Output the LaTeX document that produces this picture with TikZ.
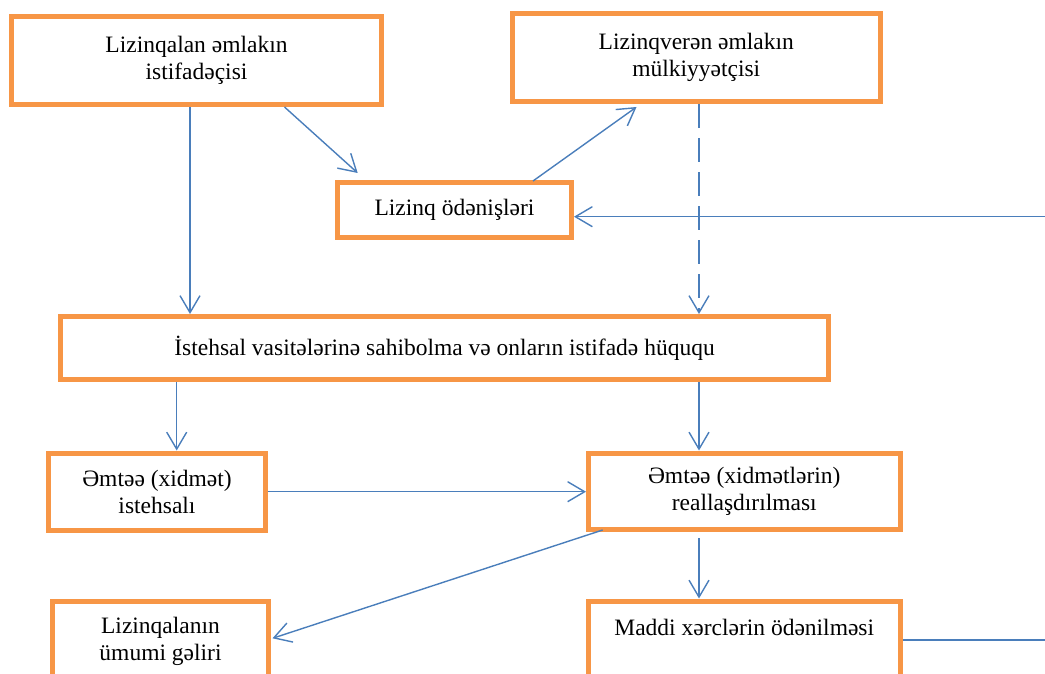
\documentclass[tikz,border=0pt]{standalone}
\usepackage{fontspec}
\setmainfont{Liberation Serif}
\usetikzlibrary{arrows.meta,calc}

\definecolor{boxorange}{HTML}{F79646}
\definecolor{linkblue}{HTML}{4A7EBB}

\tikzset{
  stagebox/.style={draw=boxorange, line width=5bp, fill=white, rectangle,
    inner sep=0pt, align=center, font=\fontsize{23.5bp}{27bp}\selectfont},
  conn/.style={draw=linkblue, line width=1.4bp,
    -{Straight Barb[length=17bp,width=20bp]}},
  dashconn/.style={conn, dash pattern=on 24bp off 10bp},
}

\begin{document}
\begin{tikzpicture}[x=1bp, y=-1bp]
  \useasboundingbox (0,0) rectangle (1045,674);
  \clip (0,0) rectangle (1045,674);

  % boxes
  \node[stagebox, minimum width=369bp, minimum height=87.5bp] (A) at (196.5,60.75)
    {Lizinqalan əmlakın\\istifadəçisi};
  \node[stagebox, minimum width=368.5bp, minimum height=87.5bp] (B) at (696.25,57.75)
    {Lizinqverən əmlakın\\mülkiyyətçisi};
  \node[stagebox, minimum width=234bp, minimum height=54.5bp] (C) at (454.5,210.25)
    {Lizinq ödənişləri};
  \node[stagebox, minimum width=767bp, minimum height=63bp] (D) at (444.5,348)
    {\raisebox{-2bp}{İstehsal vasitələrinə sahibolma və onların istifadə hüququ}};
  \node[stagebox, minimum width=216bp, minimum height=77bp] (E) at (157,491.5)
    {Əmtəə (xidmət)\\istehsalı};
  \node[stagebox, minimum width=311.5bp, minimum height=76bp] (F) at (744.25,491)
    {Əmtəə (xidmətlərin)\\reallaşdırılması};
  \node[stagebox, minimum width=215bp, minimum height=80bp] (G) at (160.5,641)
    {Lizinqalanın\\ümumi gəliri};
  \node[stagebox, minimum width=311.5bp, minimum height=80bp] (H) at (744.25,641)
    {Maddi xərclərin ödənilməsi\\\mbox{}};

  % guide coordinates for vertical and horizontal runs
  \coordinate (ax) at (190,0);
  \coordinate (bx) at (699,0);
  \coordinate (ex) at (176.7,0);
  \coordinate (ey) at (0,491.7);
  \coordinate (hy) at (0,640);
  \coordinate (cy) at (0,216.7);
  \coordinate (rt) at (1060,216.7);

  % connectors
  \draw[conn] (A.south -| ax) -- (D.north -| ax);
  \draw[conn] ($(A.south west)+(275,0)$) -- ($(C.north west)+(22.7,-7.5)$);
  \draw[conn] ($(C.north west)+(198,0.5)$) -- ($(B.south west)+(127,3)$);
  \draw[dashconn] (B.south -| bx) -- (D.north -| bx);
  \draw[conn] (D.south -| ex) -- (E.north -| ex);
  \draw[conn] (D.south -| bx) -- (F.north -| bx);
  \draw[conn] (E.east |- ey) -- (F.west |- ey);
  \draw[conn] ($(F.south west)+(16.7,-1.5)$) -- ($(G.east)+(2,-2.7)$);
  \draw[conn, shorten <=6.5bp] (F.south -| bx) -- (H.north -| bx);
  \draw[conn] (H.east |- hy) -| (rt) -- (C.east |- cy);
\end{tikzpicture}
\end{document}
